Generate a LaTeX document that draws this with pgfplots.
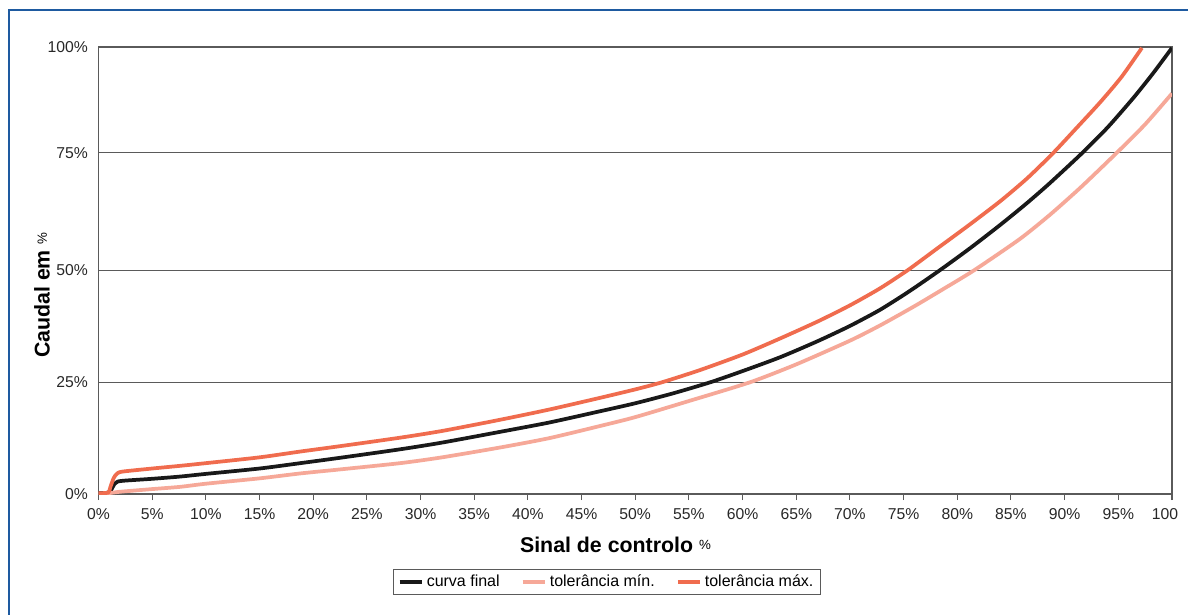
\documentclass[border=0pt]{standalone}
\usepackage{fontspec}
\setmainfont{Liberation Sans}
\usepackage{pgfplots}
\pgfplotsset{compat=1.18}
\definecolor{framecol}{RGB}{30,90,160}
\definecolor{tolmin}{RGB}{246,168,152}
\definecolor{tolmax}{RGB}{240,108,78}
\definecolor{curva}{RGB}{25,25,25}
\definecolor{gridcol}{RGB}{90,90,90}
\definecolor{labcol}{RGB}{40,40,40}

\begin{document}
\begin{tikzpicture}[x=0.75pt,y=0.75pt]
\useasboundingbox (0,0) rectangle (1188,614);
\fill[white] (0,0) rectangle (1188,614);
\draw[framecol, line width=1.6pt] (9,-5) -- (9,604) -- (1195,604);
\begin{axis}[
  at={(73.875pt,90pt)}, anchor=south west,
  scale only axis, width=805.1pt, height=335.25pt,
  xmin=0, xmax=100, ymin=0, ymax=100,
  axis line style={gridcol, line width=0.8pt},
  xtick={0,5,...,100},
  xticklabels={0\%,5\%,10\%,15\%,20\%,25\%,30\%,35\%,40\%,45\%,50\%,55\%,60\%,65\%,70\%,75\%,80\%,85\%,90\%,95\%,100\phantom{\%}},
  ytick={0,25,50,76.3,100},
  yticklabels={0\%,25\%,50\%,75\%,100\%},
  ymajorgrids, major grid style={gridcol, line width=0.7pt},
  tick align=outside, xtick pos=lower, ytick pos=left,
  major tick length=4.5pt,
  x tick style={gridcol, line width=0.8pt},
  y tick style={draw=none},
  tick label style={font=\fontsize{11.8}{14}\selectfont, text=labcol},
  xticklabel style={yshift=-3pt},
  xlabel={\bfseries Sinal de controlo {\normalfont\fontsize{10}{12}\selectfont\raisebox{0.4ex}{\%}}},
  ylabel={\bfseries Caudal em {\normalfont\fontsize{10}{12}\selectfont\raisebox{0.4ex}{\%}}},
  label style={font=\fontsize{16}{19}\selectfont, text=black},
  xlabel style={at={(axis description cs:0.4816,-0.114)}, anchor=center},
  ylabel style={at={(axis description cs:-0.0526,0.445)}, anchor=center},
  legend style={at={(axis description cs:0.4737,-0.197)}, anchor=center,
    legend columns=3, draw=gridcol, line width=0.8pt,
    font=\fontsize{12}{14}\selectfont,
    /tikz/every even column/.append style={column sep=14pt}},
  legend image code/.code={\draw[#1, line width=2.6pt] (0pt,0pt) -- (17pt,0pt);},
  every axis plot/.append style={line width=2.8pt, line join=round, smooth, tension=0.4},
]
\addplot[curva] table {
0 0.2
0.9 0.3
1.2 1.0
1.5 2.3
1.8 2.8
2.5 3.0
5 3.4
7.6 3.9
10 4.5
15 5.7
18.8 6.9
22.5 8.1
28.1 10.0
32 11.5
37.4 13.9
42 16.0
46.7 18.5
50 20.3
53.5 22.5
57 25.0
60 27.5
63.5 30.6
67 34.2
70 37.6
72.8 41.2
75.5 45.3
78.4 50.1
81.2 55.0
84 60.2
86.4 64.9
88.6 69.5
91.6 76.2
94 82.0
96.4 88.6
98.2 94.0
100 99.8
};
\addlegendentry{curva final}
\addplot[tolmin] table {
0 0.1
1 0.2
2 0.5
5 1.1
7.6 1.6
10 2.3
15 3.5
18.8 4.6
22.5 5.5
28.1 6.9
32 8.2
37.4 10.4
42 12.5
46.7 15.2
50 17.2
55 20.8
60.7 25.0
65 29.0
70 34.3
72.8 37.7
76 42.0
78.8 46.0
81.6 50.1
85.8 57.0
88.6 62.4
91.5 68.6
94.8 76.2
97.5 82.7
100 89.6
};
\addlegendentry{tolerância mín.}
\addplot[tolmax] table {
0 0.2
0.9 0.3
1.1 1.5
1.4 3.5
1.7 4.5
2.2 5.0
5 5.7
7.6 6.3
10 6.9
15 8.2
18.8 9.5
22.5 10.7
28.1 12.6
32 14.1
37.4 16.6
42 18.9
46.7 21.5
50 23.4
52.5 25.0
56 27.7
60 31.2
63.5 34.8
67 38.6
70 42.2
72.8 46.0
75.4 50.1
78 54.7
81 60.0
84 65.5
86.5 70.6
88.9 76.2
91 81.6
93.3 87.6
95.3 93.3
97.2 99.8
};
\addlegendentry{tolerância máx.}
\end{axis}
\end{tikzpicture}
\end{document}
